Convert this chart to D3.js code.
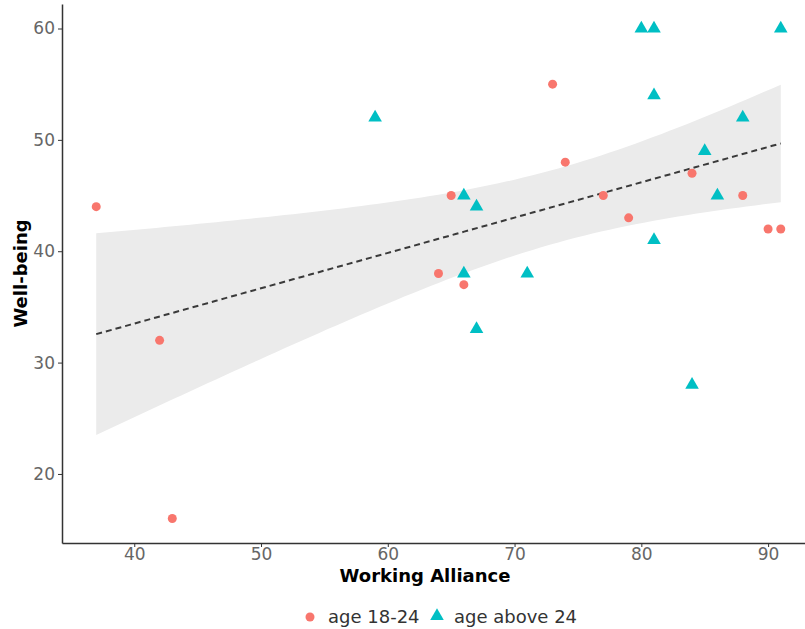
<!DOCTYPE html>
<html>
<head>
<meta charset="utf-8">
<script src="https://cdn.jsdelivr.net/npm/d3@7"></script>
<style>
  body { margin: 0; background: #fff; }
  text { font-family: "DejaVu Sans", sans-serif; }
</style>
</head>
<body>
<div id="container"></div>
<script>
// data
const groups = ["age 18-24", "age above 24"];
const youngX = [37, 42, 43, 64, 65, 66, 73, 74, 77, 79, 84, 88, 90, 91];
const youngY = [44, 32, 16, 38, 45, 37, 55, 48, 45, 43, 47, 45, 42, 42];
const olderX = [59, 66, 67, 66, 67, 71, 80, 81, 81, 81, 84, 85, 86, 88, 91];
const olderY = [52, 45, 44, 38, 33, 38, 60, 60, 54, 41, 28, 49, 45, 52, 60];
const xTicks = [40, 50, 60, 70, 80, 90];
const yTicks = [20, 30, 40, 50, 60];

const width = 805, height = 629;
const margin = { top: 4, left: 62, bottom: 86 };

const points = [
  ...youngX.map((x, i) => ({ x, y: youngY[i], g: groups[0] })),
  ...olderX.map((x, i) => ({ x, y: olderY[i], g: groups[1] }))
];

// ggplot style 5% expansion
const xExt = d3.extent(points, d => d.x), yExt = d3.extent(points, d => d.y);
const xPad = (xExt[1] - xExt[0]) * 0.05, yPad = (yExt[1] - yExt[0]) * 0.05;

const xScale = d3.scaleLinear()
  .domain([xExt[0] - xPad, xExt[1] + xPad])
  .range([margin.left, 815]);
const yScale = d3.scaleLinear()
  .domain([yExt[0] - yPad, yExt[1] + yPad])
  .range([height - margin.bottom, margin.top]);

const color = d3.scaleOrdinal().domain(groups).range(["#F8766D", "#00BFC4"]);

// linear model + 95% band (like geom_smooth(method = "lm"))
const n = points.length;
const mx = d3.mean(points, d => d.x), my = d3.mean(points, d => d.y);
const sxx = d3.sum(points, d => (d.x - mx) ** 2);
const sxy = d3.sum(points, d => (d.x - mx) * (d.y - my));
const slope = sxy / sxx, icpt = my - slope * mx;
const rss = d3.sum(points, d => (d.y - icpt - slope * d.x) ** 2);
const s = Math.sqrt(rss / (n - 2));
const tq = 2.052; // t(0.975, df = 27)
const fit = d3.range(0, 81).map(i => {
  const x = xExt[0] + (xExt[1] - xExt[0]) * i / 80;
  const yh = icpt + slope * x;
  const se = s * Math.sqrt(1 / n + (x - mx) ** 2 / sxx);
  return { x, yh, lo: yh - tq * se, hi: yh + tq * se };
});

const svg = d3.select("#container").append("svg")
  .attr("width", width).attr("height", height);

svg.append("path")
  .datum(fit)
  .attr("fill", "#ebebeb")
  .attr("d", d3.area().x(d => xScale(d.x)).y0(d => yScale(d.lo)).y1(d => yScale(d.hi)));

svg.append("path")
  .datum(fit)
  .attr("fill", "none")
  .attr("stroke", "#3a3a3a")
  .attr("stroke-width", 2)
  .attr("stroke-dasharray", "6,4")
  .attr("d", d3.line().x(d => xScale(d.x)).y(d => yScale(d.yh)));

// axes
const yAxis = svg.append("g")
  .attr("transform", `translate(${margin.left},0)`)
  .call(d3.axisLeft(yScale).tickValues(yTicks).tickSizeInner(4).tickSizeOuter(0).tickPadding(3));
const xAxis = svg.append("g")
  .attr("transform", `translate(0,${height - margin.bottom})`)
  .call(d3.axisBottom(xScale).tickValues(xTicks).tickSizeInner(4).tickSizeOuter(0).tickPadding(1));

[xAxis, yAxis].forEach(ax => {
  ax.select(".domain").attr("stroke", "#333").attr("stroke-width", 1.5);
  ax.selectAll(".tick line").attr("stroke", "#333");
  ax.selectAll(".tick text").attr("fill", "#666").style("font-size", "17px")
    .style("font-family", "DejaVu Sans, sans-serif");
});

// points
const tri = d3.symbol().type(d3.symbolTriangle).size(80);
svg.selectAll("circle.pt")
  .data(points.filter(d => d.g === groups[0]))
  .join("circle")
  .attr("class", "pt")
  .attr("cx", d => xScale(d.x))
  .attr("cy", d => yScale(d.y))
  .attr("r", 4.5)
  .attr("fill", color(groups[0]));
svg.selectAll("path.pt")
  .data(points.filter(d => d.g === groups[1]))
  .join("path")
  .attr("class", "pt")
  .attr("transform", d => `translate(${xScale(d.x)},${yScale(d.y)})`)
  .attr("d", tri)
  .attr("fill", color(groups[1]));

// axis titles
svg.append("text")
  .attr("x", 425).attr("y", 582)
  .attr("text-anchor", "middle")
  .style("font-size", "18px").style("font-weight", "bold")
  .text("Working Alliance");
svg.append("text")
  .attr("transform", `translate(27,${yScale(38)}) rotate(-90)`)
  .attr("text-anchor", "middle")
  .style("font-size", "18px").style("font-weight", "bold")
  .text("Well-being");

// legend
const leg = svg.append("g").attr("transform", "translate(0,617)");
leg.append("circle").attr("cx", 310).attr("cy", 0).attr("r", 4.5).attr("fill", color(groups[0]));
leg.append("text").attr("x", 328).attr("y", 6).style("font-size", "18px").attr("fill", "#333").text(groups[0]);
leg.append("path").attr("transform", "translate(437,-1)").attr("d", tri).attr("fill", color(groups[1]));
leg.append("text").attr("x", 454).attr("y", 6).style("font-size", "18px").attr("fill", "#333").text(groups[1]);
</script>
</body>
</html>
